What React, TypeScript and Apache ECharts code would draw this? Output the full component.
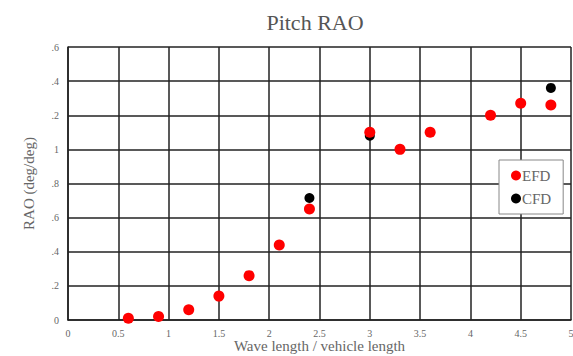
import React, { useEffect, useRef } from "react";
import * as echarts from "echarts";

const efdX = [0.6, 0.9, 1.2, 1.5, 1.8, 2.1, 2.4, 3.0, 3.3, 3.6, 4.2, 4.5, 4.8];
const efdY = [0.01, 0.02, 0.06, 0.14, 0.26, 0.44, 0.65, 1.1, 1.0, 1.1, 1.2, 1.27, 1.26];
const cfdX = [2.4, 3.0, 4.8];
const cfdY = [0.715, 1.08, 1.36];
const yTickLabels = ["0", ".2", ".4", ".6", ".8", "1", ".2", ".4", ".6"];
const xTickLabels = ["0", "0.5", "1", "1.5", "2", "2.5", "3", "3.5", "4", "4.5", "5"];

const FONT = "'Liberation Serif', 'DejaVu Serif', serif";
const GREY = "#666";

export default function App() {
  const ref = useRef<HTMLDivElement>(null);
  useEffect(() => {
    if (!ref.current) return;
    const chart = echarts.init(ref.current, null, { renderer: "svg" });
    chart.setOption({
      animation: false,
      backgroundColor: "#fff",
      title: {
        text: "Pitch RAO",
        left: 310,
        top: 6,
        textAlign: "center",
        textStyle: { fontFamily: FONT, fontSize: 22, fontWeight: "normal", color: "#555" },
      },
      grid: {
        left: 68,
        top: 47,
        width: 503,
        height: 273,
        containLabel: false,
        outerBoundsMode: "none",
      },
      legend: {
        orient: "vertical",
        left: 499,
        top: 160,
        width: 70,
        backgroundColor: "#fff",
        borderColor: "#888",
        borderWidth: 1,
        padding: [8, 12, 8, 12],
        itemGap: 8,
        itemWidth: 10,
        itemHeight: 10,
        textStyle: { fontFamily: FONT, fontSize: 15, color: GREY, padding: [0, 0, 0, -4] },
        data: [
          { name: "EFD", icon: "circle" },
          { name: "CFD", icon: "circle" },
        ],
      },
      xAxis: {
        type: "value",
        min: 0,
        max: 5,
        interval: 0.5,
        name: "Wave length / vehicle length",
        nameLocation: "middle",
        nameGap: 18,
        nameMoveOverlap: false,
        nameTextStyle: { fontFamily: FONT, fontSize: 15, color: GREY },
        axisLine: { show: true, lineStyle: { color: "#222", width: 1.5 } },
        axisTick: { show: false },
        axisLabel: {
          margin: 8,
          fontFamily: FONT,
          fontSize: 10,
          color: GREY,
          formatter: (v: number) => xTickLabels[Math.round(v / 0.5)] ?? "",
        },
        splitLine: { show: true, lineStyle: { color: "#222", width: 1.5 } },
      },
      yAxis: {
        type: "value",
        min: 0,
        max: 1.6,
        interval: 0.2,
        name: "RAO (deg/deg)",
        nameLocation: "middle",
        nameGap: 32,
        nameRotate: 90,
        nameMoveOverlap: false,
        nameTextStyle: { fontFamily: FONT, fontSize: 15, color: GREY },
        axisLine: { show: true, lineStyle: { color: "#222", width: 1.5 } },
        axisTick: { show: false },
        axisLabel: {
          margin: 9,
          fontFamily: FONT,
          fontSize: 10,
          color: GREY,
          formatter: (v: number) => yTickLabels[Math.round(v / 0.2)] ?? "",
        },
        splitLine: { show: true, lineStyle: { color: "#222", width: 1.5 } },
      },
      series: [
        {
          name: "CFD",
          type: "scatter",
          symbolSize: 10,
          itemStyle: { color: "#000", opacity: 1 },
          data: cfdX.map((x, i) => [x, cfdY[i]]),
          z: 2,
        },
        {
          name: "EFD",
          type: "scatter",
          symbolSize: 11,
          itemStyle: { color: "#ff0000", opacity: 1 },
          data: efdX.map((x, i) => [x, efdY[i]]),
          z: 3,
        },
      ],
    });
    return () => chart.dispose();
  }, []);
  return (
    <div
      ref={ref}
      style={{ position: "fixed", left: 0, top: 0, width: 573, height: 356 }}
    />
  );
}
